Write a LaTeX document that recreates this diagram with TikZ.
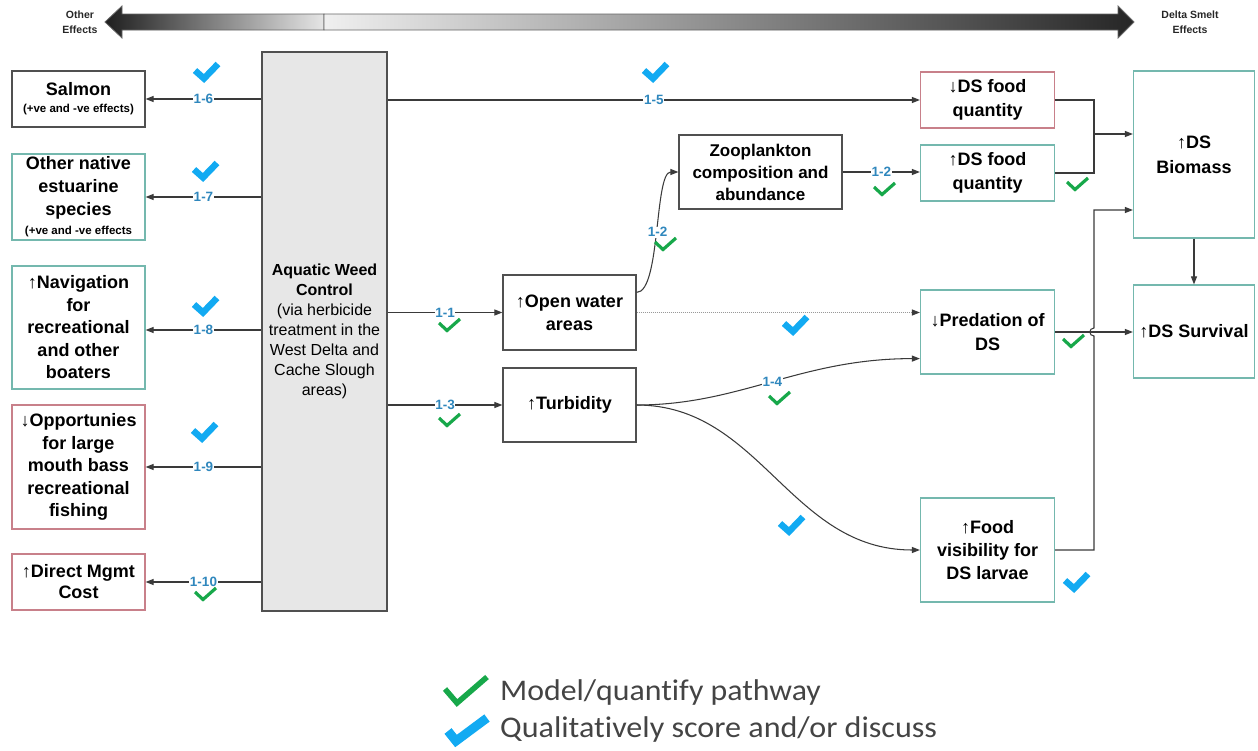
\documentclass[tikz,border=0pt]{standalone}
\usepackage{fontspec}
\setmainfont{Liberation Sans}
\newfontfamily\legfont[Ligatures=CommonOff]{Carlito}
\usetikzlibrary{arrows.meta,calc}
\definecolor{lineC}{HTML}{3A3A3A}
\definecolor{boxgray}{HTML}{505050}
\definecolor{boxteal}{HTML}{74B8AE}
\definecolor{boxred}{HTML}{C8808A}
\definecolor{awcfill}{HTML}{E7E7E7}
\definecolor{lblblue}{HTML}{2F87BD}
\definecolor{chkgreen}{HTML}{17A84A}
\definecolor{chkblue}{HTML}{12AAF2}
\definecolor{legtext}{HTML}{444444}
\tikzset{
  box/.style={draw, line width=1.2pt, align=center, inner sep=1pt,
    font=\bfseries\fontsize{18}{23}\selectfont},
  greybox/.style={box, draw=boxgray},
  tealbox/.style={box, draw=boxteal},
  redbox/.style={box, draw=boxred},
  conn/.style={draw=lineC, line width=1.05pt},
  arr/.style={conn, -{Triangle[length=8pt,width=6pt,color=lineC]}},
  lbl/.style={fill=white, text=lblblue, inner sep=0.6pt,
    font=\bfseries\fontsize{13.5}{14}\selectfont},
  gcheck/.pic={\draw[chkgreen, line width=3.2pt, line join=miter]
    (-8,-10) -- (0,-2.5) -- (13,-14);},
  bcheck/.pic={\draw[chkblue, line width=6.5pt, line join=miter]
    (-9,-12.5) -- (0,-4.5) -- (14,-19);},
  bartext/.style={align=center, font=\bfseries\fontsize{10.5}{15}\selectfont, text=black!85},
}
\begin{document}
\begin{tikzpicture}[x=1pt,y=-1pt]
\useasboundingbox (0,0) rectangle (1258,750);

% top gradient arrow bar
\shade[left color=black!88, right color=black!10, draw=black!60, line width=0.8pt]
  (105,22) -- (122,6) -- (122,14) -- (324,14) -- (324,30) -- (122,30) -- (122,38) -- cycle;
\shade[left color=black!6, right color=black!85, draw=black!60, line width=0.8pt]
  (324,14) -- (1118,14) -- (1118,6) -- (1134,22) -- (1118,38) -- (1118,30) -- (324,30) -- cycle;
\node[bartext] (oe) at (80,22) {Other\\Effects};
\node[bartext] (dse) at (1190,22) {Delta Smelt\\Effects};

% left column
\node[greybox, minimum width=133pt, minimum height=56pt] (salmon) at (78.5,99)
  {Salmon\\[-6pt]{\fontsize{11.5}{14}\selectfont (+ve and -ve effects)}};
\node[tealbox, minimum width=133pt, minimum height=86pt] (native) at (78.5,197)
  {Other native\\estuarine\\species\\[-4pt]{\fontsize{11.5}{14}\selectfont (+ve and -ve effects}};
\node[tealbox, minimum width=133pt, minimum height=123pt, font=\bfseries\fontsize{18}{22.5}\selectfont] (nav) at (78.5,327.5)
  {↑Navigation\\for\\recreational\\and other\\boaters};
\node[redbox, minimum width=133pt, minimum height=124pt, font=\bfseries\fontsize{18}{22.5}\selectfont] (opp) at (78.5,467)
  {↓Opportunies\\for large\\mouth bass\\recreational\\fishing};
\node[redbox, minimum width=133pt, minimum height=56pt, font=\bfseries\fontsize{18}{21}\selectfont] (cost) at (78.5,582)
  {↑Direct Mgmt\\Cost};

% central control box
\node[box, draw=boxgray, fill=awcfill, minimum width=125pt, minimum height=559pt,
  font=\fontsize{16}{20}\selectfont] (awc) at (324.5,331.5)
  {\textbf{Aquatic Weed}\\\textbf{Control}\\(via herbicide\\treatment in the\\West Delta and\\Cache Slough\\areas)};

% middle
\node[greybox, minimum width=133pt, minimum height=75pt] (open) at (569.5,312.5) {↑Open water\\areas};
\node[greybox, minimum width=133pt, minimum height=74pt] (turb) at (569.5,405) {↑Turbidity};
\node[greybox, minimum width=163pt, minimum height=74pt, font=\bfseries\fontsize{17}{22}\selectfont] (zoo) at (760.5,172)
  {Zooplankton\\composition and\\abundance};

% right
\node[redbox, minimum width=134pt, minimum height=56pt, font=\bfseries\fontsize{18}{24}\selectfont] (dsdown) at (987.5,100) {↓DS food\\quantity};
\node[tealbox, minimum width=134pt, minimum height=56pt, font=\bfseries\fontsize{18}{24}\selectfont] (dsup) at (987.5,173) {↑DS food\\quantity};
\node[tealbox, minimum width=121pt, minimum height=167pt, font=\bfseries\fontsize{18}{25}\selectfont] (bio) at (1194,154.5) {↑DS\\Biomass};
\node[tealbox, minimum width=134pt, minimum height=84pt, font=\bfseries\fontsize{18}{24}\selectfont] (pred) at (987.5,332) {↓Predation of\\DS};
\node[tealbox, minimum width=121pt, minimum height=93pt] (surv) at (1194,331.5) {↑DS Survival};
\node[tealbox, minimum width=134pt, minimum height=104pt, font=\bfseries\fontsize{18}{23}\selectfont] (food) at (987.5,550) {↑Food\\visibility for\\DS larvae};

% left connectors
\draw[arr] (awc.west |- salmon.east) -- node[lbl]{1-6} (salmon.east);
\draw[arr] (awc.west |- native.east) -- node[lbl]{1-7} (native.east);
\draw[arr] ($(awc.west |- nav.east)+(0,2.5)$) -- node[lbl]{1-8} ($(nav.east)+(0,2.5)$);
\draw[arr] (awc.west |- opp.east) -- node[lbl]{1-9} (opp.east);
\draw[arr] (awc.west |- cost.east) -- node[lbl]{1-10} (cost.east);

% right of control
\draw[arr] (awc.east |- dsdown.west) -- node[lbl]{1-5} (dsdown.west);
\draw[arr] (awc.east |- open.west) -- node[lbl]{1-1} (open.west);
\draw[arr] (awc.east |- turb.west) -- node[lbl]{1-3} (turb.west);
\draw[arr] ($(open.north east)+(0,18)$) .. controls +(24,0) and +(-24,0) .. (zoo.west) node[pos=0.5, lbl]{1-2};
\draw[arr] (zoo.east) -- node[lbl]{1-2} (zoo.east -| dsup.west);
\draw[draw=black!40, line width=1pt, densely dotted, -{Triangle[length=8pt,width=6pt,color=lineC]}]
  (open.east) -- (open.east -| pred.west);
\draw[arr] (turb.east) .. controls +(104,0) and +(-120,0) .. ($(pred.south west)+(0,-16)$) node[pos=0.5, lbl]{1-4};
\draw[arr] (turb.east) .. controls +(124,0) and +(-130,0) .. (food.west);

% junctions to biomass / survival
\coordinate (j1) at (1094,134);
\coordinate (j2) at (1094,210);
\draw[conn] (dsdown.east) -| (j1);
\draw[conn] (dsup.east) -| (j1);
\draw[arr] (j1) -- (j1 -| bio.west);
\draw[arr] (food.east) -| (1094,336) .. controls (1088.5,336) and (1088.5,328) .. (1094,328) -- (j2) -- (j2 -| bio.west);
\draw[arr] (pred.east) -- (pred.east -| surv.west);
\draw[arr] (bio.south) -- (bio.south |- surv.north);

% check marks
\pic at (204,83) {bcheck};
\pic at (203,182) {bcheck};
\pic at (203,317) {bcheck};
\pic at (202,443) {bcheck};
\pic at (653,83) {bcheck};
\pic at (793,336) {bcheck};
\pic at (789,536) {bcheck};
\pic at (1074,593) {bcheck};
\pic at (203,602) {gcheck};
\pic at (447,333) {gcheck};
\pic at (447,428) {gcheck};
\pic at (663,252) {gcheck};
\pic at (882,197) {gcheck};
\pic at (1075,192) {gcheck};
\pic at (777,406) {gcheck};
\pic at (1071,349) {gcheck};

% legend
\draw[chkgreen, line width=5.5pt, line join=miter] (445,689) -- (457,703) -- (487,677);
\draw[chkblue, line width=9pt, line join=miter] (448,731) -- (456,741) -- (487,718);
\node[anchor=west, text=legtext, inner sep=0pt] (leg1) at (500,692)
  {\scalebox{1.06}[1]{\legfont\fontsize{30}{32}\selectfont Model/quantify pathway}};
\node[anchor=west, text=legtext, inner sep=0pt] (leg2) at (500,729)
  {\scalebox{1.07}[1]{\legfont\fontsize{30}{32}\selectfont Qualitatively score and/or discuss}};
\end{tikzpicture}
\end{document}
